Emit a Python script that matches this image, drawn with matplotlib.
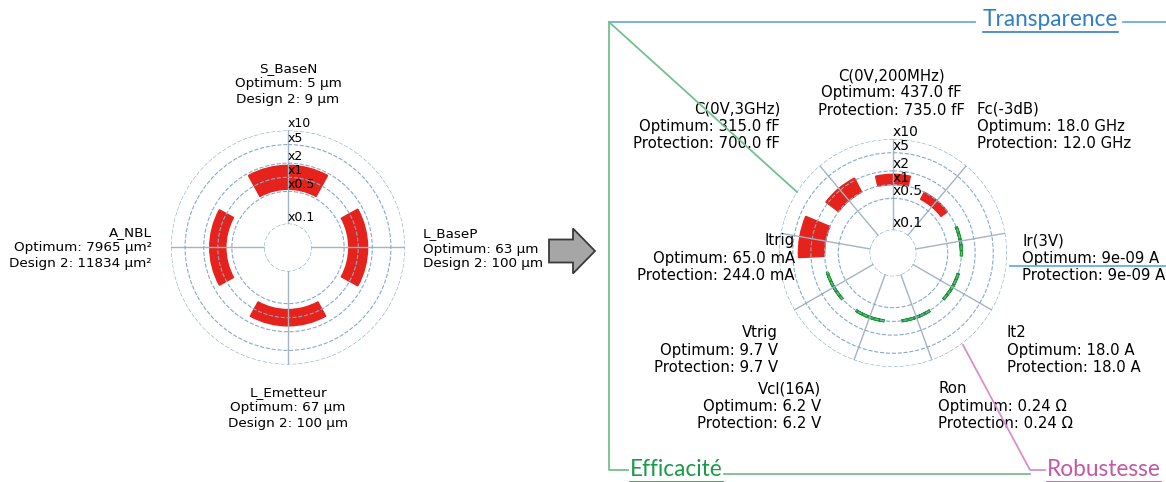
import numpy as np
import matplotlib.pyplot as plt
from matplotlib.patches import FancyArrow

W, H = 1166, 482

# chart 1 : design parameters
left_names = ['S_BaseN', 'L_BaseP', 'L_Emetteur', 'A_NBL']
left_opt_txt = ['5 µm', '63 µm', '67 µm', '7965 µm²']
left_des_txt = ['9 µm', '100 µm', '100 µm', '11834 µm²']
left_opt = [5, 63, 67, 7965]
left_des = [9, 100, 100, 11834]

# chart 2 : performances
right_names = ['C(0V,200MHz)', 'Fc(-3dB)', 'Ir(3V)', 'It2', 'Ron',
               'Vcl(16A)', 'Vtrig', 'Itrig', 'C(0V,3GHz)']
right_opt_txt = ['437.0 fF', '18.0 GHz', '9e-09 A', '18.0 A', '0.24 Ω',
                 '6.2 V', '9.7 V', '65.0 mA', '315.0 fF']
right_prot_txt = ['735.0 fF', '12.0 GHz', '9e-09 A', '18.0 A', '0.24 Ω',
                  '6.2 V', '9.7 V', '244.0 mA', '700.0 fF']
right_opt = [437.0, 18.0, 9e-09, 18.0, 0.24, 6.2, 9.7, 65.0, 315.0]
right_prot = [735.0, 12.0, 9e-09, 18.0, 0.24, 6.2, 9.7, 244.0, 700.0]

ring_vals = [0.1, 0.5, 1, 2, 5, 10]
ring_labels = ['x0.1', 'x0.5', 'x1', 'x2', 'x5', 'x10']

fig = plt.figure(figsize=(W / 100, H / 100), dpi=100)


def px(x, y):
    return x / W, 1 - y / H


def radar(cx, cy, R, ratio, fs, symmetric):
    ax = fig.add_axes([(cx - R) / W, 1 - (cy + R) / H, 2 * R / W, 2 * R / H],
                      projection='polar')
    ax.patch.set_alpha(0)
    n = len(ratio)
    theta = np.arange(n) * 2 * np.pi / n
    ax.set_theta_zero_location('N')
    ax.set_theta_direction(-1)
    lr = np.log10(ratio)
    if symmetric:
        bottom = -np.abs(lr)
        height = 2 * np.abs(lr)
    else:
        bottom = np.minimum(lr, 0)
        height = np.abs(lr)
    colors = ['#e5231c' if abs(v) > 1e-9 else '#169a28' for v in lr]
    widths = [1.0 if abs(v) > 1e-9 else 2.2 for v in lr]
    ax.bar(theta, height, width=0.64 * 2 * np.pi / n, bottom=bottom,
           color=colors, edgecolor=colors, linewidth=widths)
    ax.set_ylim(-1, 1)
    ax.set_rorigin(-1.5)
    ax.set_rgrids(np.log10(ring_vals), ring_labels, angle=0, fontsize=fs)
    ax.set_xticks(theta)
    ax.set_xticklabels([])
    ax.xaxis.grid(True, color='#a4b4c4', linestyle='-', linewidth=1)
    ax.yaxis.grid(True, color='#86abcb', linestyle='--', linewidth=0.8)
    for s in ax.spines.values():
        s.set_color('none')
    return ax


radar(288, 247.5, 117, np.array(left_des) / np.array(left_opt), 9, True)
radar(893, 253, 114, np.array(right_prot) / np.array(right_opt), 10, False)

# labels around the charts
left_pos = [(288, 84, 'center'), (423, 249, 'left'),
            (288, 408, 'center'), (152, 248, 'right')]
for (x, y, ha), nm, o, d in zip(left_pos, left_names, left_opt_txt, left_des_txt):
    fig.text(*px(x, y), f'{nm}\nOptimum: {o}\nDesign 2: {d}', ha=ha,
             va='center', multialignment=ha, fontsize=9.7, linespacing=1.2)

right_pos = [(891, 93, 'center'), (977, 126, 'left'), (1022, 258, 'left'),
             (1007, 350, 'left'), (938, 406, 'left'), (821, 406, 'right'),
             (778, 350, 'right'), (795, 258, 'right'), (780, 126, 'right')]
for (x, y, ha), nm, o, p in zip(right_pos, right_names, right_opt_txt, right_prot_txt):
    fig.text(*px(x, y), f'{nm}\nOptimum: {o}\nProtection: {p}', ha=ha,
             va='center', multialignment=ha, fontsize=10.7, linespacing=1.2)

# slide decorations
ov = fig.add_axes([0, 0, 1, 1], zorder=5)
ov.set_xlim(0, W)
ov.set_ylim(H, 0)
ov.axis('off')
ov.patch.set_alpha(0)

ov.add_patch(FancyArrow(549, 251, 46, 0, width=23, head_width=45,
                        head_length=22, length_includes_head=True,
                        facecolor='#a6a6a6', edgecolor='#3a3a3a', linewidth=1.3))

blue_l, green_l, pink_l = '#6aaee0', '#72c28e', '#d98fcc'
ov.plot([609, 975], [22, 22], color=blue_l, lw=1.3)
ov.plot([1123, 1166], [22, 22], color=blue_l, lw=1.3)
ov.plot([1010, 1166], [266, 266], color=blue_l, lw=1.3)
ov.plot([609, 797], [22, 192], color=green_l, lw=1.3)
ov.plot([609, 609, 628], [22, 470, 470], color=green_l, lw=1.3)
ov.plot([724, 1030], [474, 474], color=green_l, lw=1.3)
ov.plot([963, 1030, 1045], [345, 470, 470], color=pink_l, lw=1.3)

titles = [('Transparence', 983, 20, '#2f7fc8'),
          ('Efficacité', 630, 470, '#1b9a4a'),
          ('Robustesse', 1047, 470, '#c457a6')]
rend = fig.canvas.get_renderer()
for txt, x, y, c in titles:
    t = ov.text(x, y, txt, color=c, fontsize=16.3, family='Lato',
                ha='left', va='center')
    bb = t.get_window_extent(rend)
    yy = H - bb.y0 + 1
    ov.plot([bb.x0, bb.x1], [yy, yy], color=c, lw=1.2)

fig.savefig('out.png', dpi=100)
